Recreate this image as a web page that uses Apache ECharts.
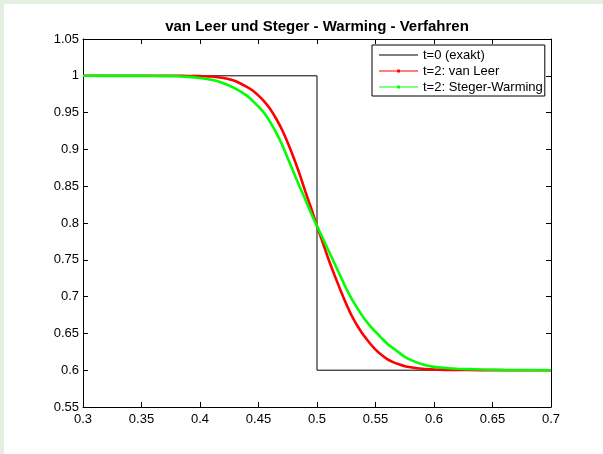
<!DOCTYPE html>
<html>
<head>
<meta charset="utf-8">
<script src="https://cdn.jsdelivr.net/npm/echarts@6/dist/echarts.min.js"></script>
<style>
  html, body { margin: 0; padding: 0; background: #ffffff; }
  #chart { width: 603px; height: 454px; }
</style>
</head>
<body>
<div id="chart"></div>
<script>
// Initial profile (t = 0): a step from 1 down to 0.6 at x = 0.5
const exactX = [0.3, 0.5, 0.5, 0.7];
const exactY = [1.0, 1.0, 0.6, 0.6];

// Shared x grid for the two numerical solutions at t = 2
const gridX = [0.30, 0.34, 0.36, 0.38, 0.39, 0.40, 0.41, 0.42, 0.43, 0.44,
  0.445, 0.45, 0.455, 0.46, 0.465, 0.47, 0.475, 0.48, 0.485, 0.49,
  0.495, 0.50, 0.505, 0.51, 0.515, 0.52, 0.525, 0.53, 0.535, 0.54,
  0.545, 0.55, 0.555, 0.56, 0.565, 0.57, 0.575, 0.58, 0.59, 0.60,
  0.61, 0.62, 0.64, 0.66, 0.70];

// van Leer flux splitting
const vanLeer = [1.000, 1.000, 1.000, 1.000, 0.9998, 0.9995, 0.999, 0.997, 0.993, 0.985,
  0.980, 0.973, 0.965, 0.955, 0.942, 0.927, 0.909, 0.889, 0.867, 0.843,
  0.820, 0.796, 0.773, 0.750, 0.729, 0.709, 0.690, 0.673, 0.659, 0.647,
  0.637, 0.628, 0.621, 0.615, 0.611, 0.608, 0.6055, 0.604, 0.602, 0.601,
  0.6005, 0.6003, 0.6001, 0.600, 0.600];

// Steger-Warming flux splitting
const stegerWarming = [1.000, 0.9999, 0.9998, 0.9993, 0.9985, 0.997, 0.9945, 0.990, 0.983, 0.973,
  0.966, 0.958, 0.949, 0.937, 0.923, 0.907, 0.888, 0.869, 0.850, 0.832,
  0.813, 0.796, 0.779, 0.762, 0.745, 0.728, 0.711, 0.696, 0.683, 0.671,
  0.661, 0.652, 0.644, 0.636, 0.630, 0.624, 0.618, 0.614, 0.608, 0.6045,
  0.603, 0.602, 0.601, 0.6004, 0.600];

const xTicks = ['0.3', '0.35', '0.4', '0.45', '0.5', '0.55', '0.6', '0.65', '0.7'];
const yTicks = ['0.55', '0.6', '0.65', '0.7', '0.75', '0.8', '0.85', '0.9', '0.95', '1', '1.05'];

const seriesNames = ['t=0 (exakt)', 't=2: van Leer', 't=2: Steger-Warming'];
const titleText = 'van Leer und Steger - Warming - Verfahren';

const pairs = (xs, ys) => xs.map((x, i) => [x, ys[i]]);
const FONT = '"Liberation Sans", Arial, sans-serif';

// Legend glyphs drawn in a 41x14 box: a horizontal stroke, optionally with a dot marker.
// The two hair-thin corner specks only fix the box extent so the glyph is not stretched.
const FRAME = 'M0,0h0.01v0.01h-0.01z M40.99,13.99h0.01v0.01h-0.01z ';
const plainLineIcon = 'path://' + FRAME + 'M0,6.5h41v1h-41z';
const dotLineIcon = 'path://' + FRAME + 'M0,6.5h41v1h-41z M19,5.5h3v3h-3z';

const chart = echarts.init(document.getElementById('chart'), null, { renderer: 'canvas' });

const tickLabelFmt = (list, min, step) => (v) => {
  const i = Math.round((v - min) / step);
  return list[i] !== undefined ? list[i] : '';
};

const baseAxis = {
  type: 'value',
  interval: 0.05,
  axisLine: { show: true, onZero: false, lineStyle: { color: '#000', width: 1 } },
  axisTick: { show: true, inside: true, length: 5, lineStyle: { color: '#000', width: 1 } },
  splitLine: { show: false },
  axisLabel: { show: false }
};

chart.setOption({
  backgroundColor: '#ffffff',
  animation: false,
  textStyle: { fontFamily: FONT },
  title: {
    text: titleText,
    left: 312,
    textAlign: 'center',
    top: 14,
    textStyle: { fontFamily: FONT, fontSize: 15, fontWeight: 'bold', color: '#000' }
  },
  graphic: [
    { type: 'rect', left: 0, top: 0, shape: { width: 603, height: 4 }, style: { fill: '#e4efe2' }, silent: true },
    { type: 'rect', left: 0, top: 0, shape: { width: 4, height: 454 }, style: { fill: '#e4efe2' }, silent: true }
  ],
  grid: { left: 83, top: 39, width: 468, height: 368, containLabel: false },
  xAxis: [
    Object.assign({}, baseAxis, {
      min: 0.3, max: 0.7, position: 'bottom',
      axisLabel: {
        show: true, margin: 6, color: '#000', fontSize: 13, fontFamily: FONT,
        formatter: tickLabelFmt(xTicks, 0.3, 0.05)
      }
    }),
    Object.assign({}, baseAxis, { min: 0.3, max: 0.7, position: 'top' })
  ],
  yAxis: [
    Object.assign({}, baseAxis, {
      min: 0.55, max: 1.05, position: 'left',
      axisLabel: {
        show: true, margin: 4, color: '#000', fontSize: 13, fontFamily: FONT,
        formatter: tickLabelFmt(yTicks, 0.55, 0.05)
      }
    }),
    Object.assign({}, baseAxis, { min: 0.55, max: 1.05, position: 'right' })
  ],
  legend: {
    orient: 'vertical',
    left: 372,
    top: 45,
    padding: [3, 2, 2, 7],
    itemGap: 2,
    itemWidth: 39,
    itemHeight: 14,
    backgroundColor: '#ffffff',
    borderColor: '#000',
    borderWidth: 1,
    borderRadius: 0,
    textStyle: { fontFamily: FONT, fontSize: 13, color: '#000', lineHeight: 14 },
    data: [
      { name: seriesNames[0], icon: plainLineIcon },
      { name: seriesNames[1], icon: dotLineIcon },
      { name: seriesNames[2], icon: dotLineIcon }
    ]
  },
  series: [
    {
      name: seriesNames[0],
      type: 'line',
      data: pairs(exactX, exactY),
      symbol: 'none',
      lineStyle: { color: '#000', width: 1 },
      itemStyle: { color: '#000' },
      z: 3
    },
    {
      name: seriesNames[1],
      type: 'line',
      data: pairs(gridX, vanLeer),
      symbol: 'none',
      smooth: 0.2,
      lineStyle: { color: '#ff0000', width: 2.6 },
      itemStyle: { color: '#ff0000' },
      z: 4
    },
    {
      name: seriesNames[2],
      type: 'line',
      data: pairs(gridX, stegerWarming),
      symbol: 'none',
      smooth: 0.2,
      lineStyle: { color: '#00ff00', width: 2.6 },
      itemStyle: { color: '#00ff00' },
      z: 5
    }
  ]
});
</script>
</body>
</html>
